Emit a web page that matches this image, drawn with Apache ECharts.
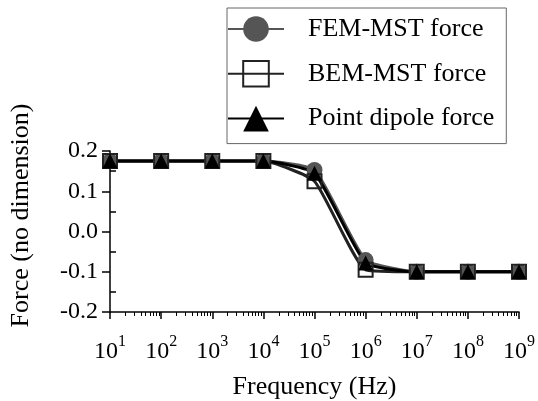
<!DOCTYPE html>
<html>
<head>
<meta charset="utf-8">
<script src="https://cdn.jsdelivr.net/npm/echarts@6/dist/echarts.min.js"></script>
<style>
    html, body { margin: 0; padding: 0; background: #fff; }
    #main { width: 538px; height: 401px; }
</style>
</head>
<body>
<div id="main"></div>
<script>
// frequencies (Hz)
const freqs = [1e1, 1e2, 1e3, 1e4, 1e5, 1e6, 1e7, 1e8, 1e9];
// force values
const femForce = [0.175, 0.175, 0.175, 0.175, 0.153, -0.071, -0.1, -0.1, -0.1];
const bemForce = [0.175, 0.175, 0.175, 0.175, 0.125, -0.095, -0.1, -0.1, -0.1];
const dipoleForce = [0.175, 0.175, 0.175, 0.175, 0.145, -0.078, -0.1, -0.1, -0.1];
const seriesNames = ['FEM-MST force', 'BEM-MST force', 'Point dipole force'];

// minor tick positions for the log axis (2..9 in each decade)
const minorX = [];
for (let e = 1; e < 9; e++) {
    for (let m = 2; m <= 9; m++) minorX.push(m * Math.pow(10, e));
}
const minorY = [-0.15, -0.05, 0.05, 0.15];

const pairs = (ys) => freqs.map((f, i) => [f, ys[i]]);
const font = 'Liberation Serif';

const myChart = echarts.init(document.getElementById('main'));
const plotWidth = 538 - 110 - 19;

const option = {
    animation: false,
    textStyle: { fontFamily: font },
    grid: { left: 110, right: 19, top: 151, bottom: 89 },
    legend: {
        data: seriesNames,
        orient: 'vertical',
        left: 227,
        top: 8,
        width: 276,
        padding: [8, 12, 12, 0],
        itemWidth: 56,
        itemHeight: 32,
        itemGap: 18,
        borderColor: '#666',
        borderWidth: 1,
        textStyle: { fontFamily: font, fontSize: 26, color: '#000', padding: [0, 0, 0, 19] }
    },
    xAxis: [
        {
            type: 'log',
            logBase: 10,
            min: 10,
            max: 1e9,
            name: 'Frequency (Hz)',
            nameLocation: 'middle',
            nameGap: 62,
            nameTextStyle: { fontFamily: font, fontSize: 26, color: '#000' },
            axisLine: { onZero: false, lineStyle: { color: '#000', width: 1.5 } },
            axisTick: { length: 7, lineStyle: { color: '#000', width: 1.5 } },
            splitLine: { show: false },
            axisLabel: {
                margin: 22,
                formatter: (v) => '{b|10}{s|' + Math.round(Math.log10(v)) + '}',
                rich: {
                    b: { fontFamily: font, fontSize: 24, lineHeight: 30, color: '#000', verticalAlign: 'bottom' },
                    s: { fontFamily: font, fontSize: 16, lineHeight: 16, color: '#000', verticalAlign: 'top' }
                }
            }
        },
        {
            type: 'log',
            logBase: 10,
            min: 10,
            max: 1e9,
            position: 'bottom',
            axisLine: { show: false, onZero: false },
            axisLabel: { show: false },
            splitLine: { show: false },
            axisTick: { length: 4, customValues: minorX, lineStyle: { color: '#000', width: 1 } }
        }
    ],
    yAxis: [
        {
            type: 'value',
            min: -0.2,
            max: 0.2,
            interval: 0.1,
            name: 'Force (no dimension)',
            nameLocation: 'middle',
            nameGap: 76,
            nameTextStyle: { fontFamily: font, fontSize: 26, color: '#000', padding: [0, 0, 0, 32] },
            axisLine: { show: true, onZero: false, lineStyle: { color: '#000', width: 1.5 } },
            axisTick: { show: true, length: 8, lineStyle: { color: '#000', width: 1.5 } },
            splitLine: { show: false },
            axisLabel: {
                margin: 12,
                fontFamily: font,
                fontSize: 24,
                color: '#000',
                formatter: (v) => v.toFixed(1)
            }
        },
        {
            // minor ticks pointing into the plot: a right-side axis moved onto the left edge
            type: 'value',
            min: -0.2,
            max: 0.2,
            position: 'right',
            offset: -plotWidth,
            axisLine: { show: false, onZero: false },
            axisLabel: { show: false },
            splitLine: { show: false },
            axisTick: { show: true, length: 6, customValues: minorY, lineStyle: { color: '#000', width: 1.5 } }
        }
    ],
    series: [
        {
            name: seriesNames[0],
            type: 'line',
            smooth: 0.15,
            data: pairs(femForce),
            symbol: 'circle',
            symbolSize: 16,
            lineStyle: { color: '#555', width: 3 },
            itemStyle: { color: '#555' }
        },
        {
            name: seriesNames[1],
            type: 'line',
            smooth: 0.15,
            data: pairs(bemForce),
            symbol: 'rect',
            symbolSize: 14,
            lineStyle: { color: '#222', width: 3 },
            itemStyle: { color: 'rgba(255,255,255,0)', borderColor: '#222', borderWidth: 2 }
        },
        {
            name: seriesNames[2],
            type: 'line',
            smooth: 0.15,
            data: pairs(dipoleForce),
            symbol: 'triangle',
            symbolSize: 15,
            lineStyle: { color: '#000', width: 3 },
            itemStyle: { color: '#000' }
        }
    ]
};

option && myChart.setOption(option);
</script>
</body>
</html>
